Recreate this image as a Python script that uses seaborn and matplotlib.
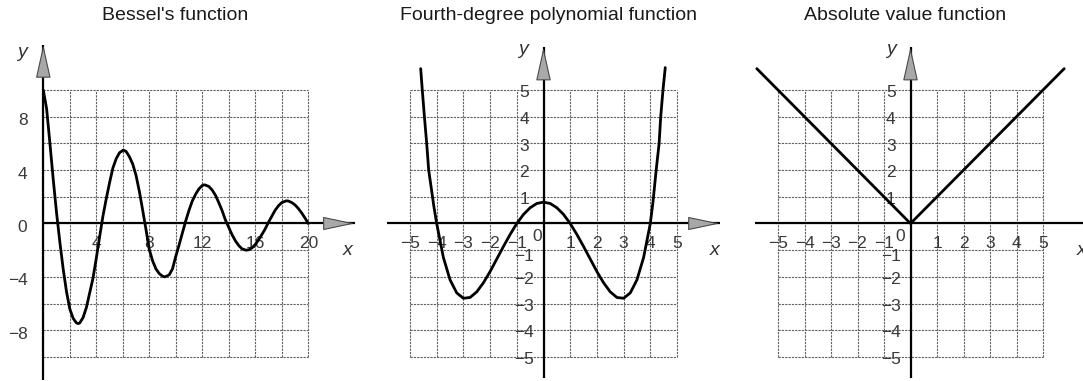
import numpy as np
import pandas as pd
import seaborn as sns
import matplotlib.pyplot as plt

# ---- data ----
bessel_x = [0, 0.25, 0.5, 0.75, 1.0, 1.25, 1.5, 1.75, 2.0, 2.25, 2.5, 2.64,
            2.75, 3.0, 3.25, 3.5, 3.75, 4.0, 4.25, 4.5, 4.75, 5.0, 5.25, 5.5, 5.75, 6.04,
            6.25, 6.5, 6.75, 7.0, 7.25, 7.5, 7.75, 8.0, 8.25, 8.5, 8.75, 9.0, 9.18,
            9.5, 9.75, 10.0, 10.25, 10.5, 10.75, 11.0, 11.25, 11.5, 11.75, 12.0, 12.18,
            12.5, 12.75, 13.0, 13.25, 13.5, 13.75, 14.0, 14.25, 14.5, 14.75, 15.0, 15.3,
            15.5, 15.75, 16.0, 16.25, 16.5, 16.75, 17.0, 17.25, 17.5, 17.75, 18.0, 18.35,
            18.5, 18.75, 19.0, 19.25, 19.5, 19.75, 20.0]
bessel_y = [10.0, 8.6, 6.0, 3.3, 0.8, -1.4, -3.4, -5.1, -6.4, -7.1, -7.45, -7.5,
            -7.45, -7.05, -6.3, -5.2, -4.1, -2.6, -1.0, 0.55, 1.85, 3.05, 4.15, 4.85, 5.3, 5.5,
            5.4, 5.0, 4.45, 3.6, 2.4, 1.0, -0.45, -1.95, -2.8, -3.4, -3.75, -3.95, -4.0,
            -3.85, -3.4, -2.45, -1.6, -0.7, 0.2, 1.0, 1.7, 2.2, 2.6, 2.85, 2.9,
            2.77, 2.5, 2.1, 1.55, 0.95, 0.25, -0.3, -0.85, -1.3, -1.65, -1.9, -2.0,
            -1.97, -1.83, -1.57, -1.22, -0.82, -0.4, 0.1, 0.55, 1.0, 1.33, 1.57, 1.7,
            1.68, 1.57, 1.39, 1.12, 0.79, 0.41, 0.0]

poly_x = [-4.6, -4.54, -4.46, -4.375, -4.3, -4.2, -4.1, -4.0, -3.75, -3.5, -3.25, -3.0, -2.75,
          -2.5, -2.25, -2.0, -1.75, -1.5, -1.25, -1.0, -0.75, -0.5, -0.25, 0, 0.25, 0.5, 0.75,
          1.0, 1.25, 1.5, 1.75, 2.0, 2.25, 2.5, 2.75, 3.0, 3.25, 3.5, 3.75, 4.0, 4.1, 4.22,
          4.33, 4.39, 4.475, 4.56]
poly_y = [5.8, 5.0, 4.0, 3.0, 2.0, 1.3, 0.6, 0.0, -1.27, -2.11, -2.6, -2.8, -2.77,
          -2.56, -2.22, -1.8, -1.33, -0.86, -0.41, 0.0, 0.34, 0.59, 0.75, 0.8, 0.75, 0.59, 0.34,
          0.0, -0.41, -0.86, -1.33, -1.8, -2.22, -2.56, -2.77, -2.8, -2.6, -2.11, -1.27, 0.0, 0.8, 2.0,
          3.0, 4.0, 5.0, 5.84]

abs_x = [-5.8, 0, 5.8]
abs_y = [5.8, 0, 5.8]

titles = ["Bessel's function", "Fourth-degree polynomial function", "Absolute value function"]

bessel_xticks = [4, 8, 12, 16, 20]
bessel_yticks = [8, 4, 0, -4, -8]
unit_ticks = [-5, -4, -3, -2, -1, 1, 2, 3, 4, 5]

# ---- style ----
sns.set_theme(style="white")
FONT = ["Liberation Sans Narrow", "Liberation Sans", "DejaVu Sans"]
plt.rcParams["font.family"] = FONT

W, H = 1083, 381
fig = plt.figure(figsize=(W / 100, H / 100), dpi=100)
fig.patch.set_facecolor("white")

GRID = dict(colors="#5f5f5f", linewidths=0.8, linestyles=(0, (2.0, 1.0)), zorder=1)
TICK = dict(fontsize=12.5, color="#3a3a3a", zorder=5)
AXLAB = dict(fontsize=14, style="italic", ha="center", va="center", color="#333")


def make_axes(box, grid_px, grid_data):
    # box / grid_px: (left, top, right, bottom) in pixels, grid_data: (xmin, xmax, ymin, ymax)
    left, top, right, bottom = box
    gx0, gy0, gx1, gy1 = grid_px
    xmin, xmax, ymin, ymax = grid_data
    sx = (gx1 - gx0) / (xmax - xmin)
    sy = (gy1 - gy0) / (ymax - ymin)
    ax = fig.add_axes([left / W, 1 - bottom / H, (right - left) / W, (bottom - top) / H])
    ax.set_xlim(xmin - (gx0 - left) / sx, xmax + (right - gx1) / sx)
    ax.set_ylim(ymin - (bottom - gy1) / sy, ymax + (gy0 - top) / sy)
    ax.set_axis_off()
    return ax


def draw_frame(ax, xs, ys, xaxis, yaxis, xhead, yhead):
    ax.vlines(xs, ys[0], ys[-1], **GRID)
    ax.hlines(ys, xs[0], xs[-1], **GRID)
    # axes lines
    ax.plot(xaxis, [0, 0], color="black", lw=1.6, zorder=3, solid_capstyle="butt")
    ax.plot([0, 0], yaxis, color="black", lw=1.6, zorder=3, solid_capstyle="butt")
    ax.annotate("", xy=(xaxis[1], 0), xytext=(xaxis[1] - xhead, 0),
                arrowprops=dict(arrowstyle="-|>,head_length=1.7,head_width=0.36",
                                fc="#a8a8a8", ec="#4a4a4a", lw=0.8, shrinkA=0, shrinkB=0),
                zorder=4)
    ax.annotate("", xy=(0, yaxis[1]), xytext=(0, yaxis[1] - yhead),
                arrowprops=dict(arrowstyle="-|>,head_length=1.8,head_width=0.4",
                                fc="#a8a8a8", ec="#4a4a4a", lw=0.8, shrinkA=0, shrinkB=0),
                zorder=4)


def minus(t):
    return str(t).replace("-", "\u2212")


# ---- panel 1 : Bessel ----
ax1 = make_axes((0, 28, 362, 381), (43.3, 90, 308.3, 357), (0, 20, -10, 10))
draw_frame(ax1, np.arange(0, 21, 2), np.arange(-10, 11, 2), [0, 23.5], [-11.7, 13.4], 1.2, 1.5)
sns.lineplot(x=bessel_x, y=bessel_y, ax=ax1, color="black", lw=2.0, sort=False,
             estimator=None, zorder=6)
for t in bessel_xticks:
    ax1.text(t, -1.5, str(t), ha="center", va="center", **TICK)
for t in bessel_yticks:
    ax1.text(-1.2, t - 0.3, minus(t), ha="right", va="center", **TICK)
ax1.text(-1.6, 12.8, "y", **AXLAB)
ax1.text(23.0, -2.0, "x", **AXLAB)

# ---- panel 2 : polynomial ----
ax2 = make_axes((362, 28, 722, 381), (410, 90, 677, 357), (-5, 5, -5, 5))
draw_frame(ax2, np.arange(-5, 6), np.arange(-5, 6), [-5.86, 6.6], [-5.8, 6.6], 0.6, 0.6)
sns.lineplot(x=poly_x, y=poly_y, ax=ax2, color="black", lw=2.0, sort=False,
             estimator=None, zorder=6)

# ---- panel 3 : absolute value ----
ax3 = make_axes((722, 28, 1083, 381), (778, 90, 1043, 357), (-5, 5, -5, 5))
draw_frame(ax3, np.arange(-5, 6), np.arange(-5, 6), [-5.87, 6.6], [-5.8, 6.6], 0.6, 0.6)
sns.lineplot(x=abs_x, y=abs_y, ax=ax3, color="black", lw=2.0, sort=False,
             estimator=None, zorder=6)

for ax, zx, ylx in [(ax2, -0.25, -0.72), (ax3, -0.4, -0.74)]:
    for t in unit_ticks:
        ax.text(t, -0.75, minus(t), ha="center", va="center", **TICK)
        dy = -0.25 if t == -1 else -0.1
        ax.text(ylx, t + dy, minus(t), ha="center", va="center", **TICK)
    ax.text(zx, -0.5, "0", ha="center", va="center", **TICK)
    ax.text(-0.75, 6.5, "y", **AXLAB)
ax2.text(6.4, -1.0, "x", **AXLAB)
ax3.text(6.45, -1.0, "x", **AXLAB)

# ---- titles ----
for cx, title in zip([175, 548, 905], titles):
    fig.text(cx / W, 1 - 15 / H, title, ha="center", va="center", fontsize=14, color="#1a1a1a")

fig.savefig("out.png", dpi=100, facecolor="white")
